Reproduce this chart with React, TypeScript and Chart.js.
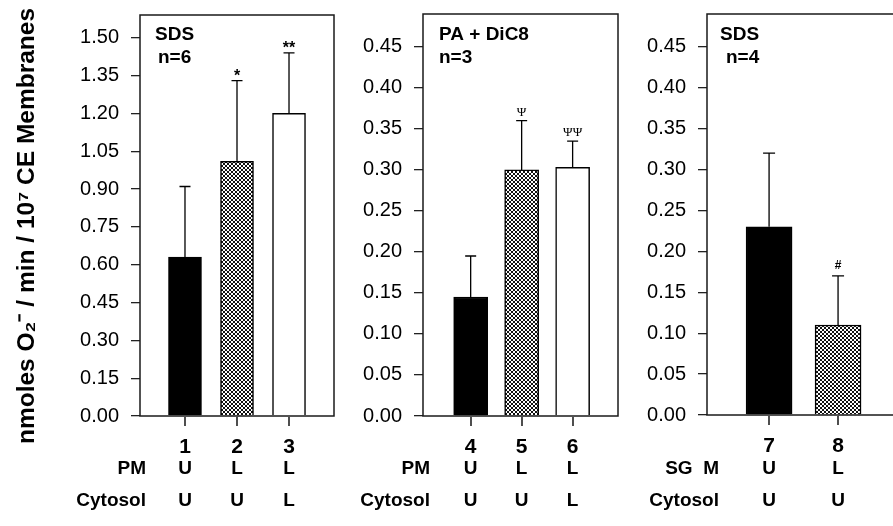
import React, { useEffect, useRef } from 'react';
import { Chart, registerables } from 'chart.js';

Chart.register(...registerables);

// ---------------- data ----------------
const Y_TITLE = 'nmoles O\u2082\u207B / min / 10\u2077 CE Membranes';

const P1_LABELS = ['1', '2', '3'];
const P1_VALUES = [0.63, 1.01, 1.2];
const P1_ERR_TOP = [0.91, 1.33, 1.44];
const P1_MARKS = ['', '*', '**'];
const P1_ROW1 = ['U', 'L', 'L'];
const P1_ROW2 = ['U', 'U', 'L'];
const P1_ROW_NAMES = ['PM', 'Cytosol'];
const P1_NOTES = ['SDS', 'n=6'];
const P1_YTICKS = [0, 0.15, 0.3, 0.45, 0.6, 0.75, 0.9, 1.05, 1.2, 1.35, 1.5];

const P2_LABELS = ['4', '5', '6'];
const P2_VALUES = [0.145, 0.3, 0.303];
const P2_ERR_TOP = [0.195, 0.36, 0.335];
const P2_MARKS = ['', '\u03A8', '\u03A8\u03A8'];
const P2_ROW1 = ['U', 'L', 'L'];
const P2_ROW2 = ['U', 'U', 'L'];
const P2_ROW_NAMES = ['PM', 'Cytosol'];
const P2_NOTES = ['PA + DiC8', 'n=3'];
const P2_YTICKS = [0, 0.05, 0.1, 0.15, 0.2, 0.25, 0.3, 0.35, 0.4, 0.45];

const P3_LABELS = ['7', '8'];
const P3_VALUES = [0.23, 0.11];
const P3_ERR_TOP = [0.32, 0.17];
const P3_MARKS = ['', '#'];
const P3_ROW1 = ['U', 'L'];
const P3_ROW2 = ['U', 'U'];
const P3_ROW_NAMES = ['SG  M', 'Cytosol'];
const P3_NOTES = ['SDS', 'n=4'];
const P3_YTICKS = [0, 0.05, 0.1, 0.15, 0.2, 0.25, 0.3, 0.35, 0.4, 0.45];

// ---------------- layout / style ----------------
const H = 526;
const FONT = '"Liberation Sans", Arial, Helvetica, sans-serif';

type PanelCfg = {
  left: number; width: number;
  area: { left: number; right: number; top: number; bottom: number };
  xMin: number; xMax: number; yMax: number;
  barW: number; capW: number;
  fills: string[];
  labels: string[]; values: number[]; errTop: number[]; marks: string[];
  row1: string[]; row2: string[]; rowNames: string[]; rowRight: number;
  notes: string[]; noteX: number[];
  yTicks: number[];
  markFont: string; markGap: number;
  title: boolean;
};

const PANELS: PanelCfg[] = [
  {
    left: 0, width: 340,
    area: { left: 140, right: 334, top: 15, bottom: 416 },
    xMin: 0.135, xMax: 3.865, yMax: 1.59,
    barW: 33, capW: 11,
    fills: ['#000', 'hatch', '#fff'],
    labels: P1_LABELS, values: P1_VALUES, errTop: P1_ERR_TOP, marks: P1_MARKS,
    row1: P1_ROW1, row2: P1_ROW2, rowNames: P1_ROW_NAMES, rowRight: 146,
    notes: P1_NOTES, noteX: [155, 158],
    yTicks: P1_YTICKS,
    markFont: `bold 16px ${FONT}`, markGap: 0,
    title: true,
  },
  {
    left: 340, width: 285,
    area: { left: 83, right: 278, top: 14, bottom: 416 },
    xMin: 3.065, xMax: 6.89, yMax: 0.49,
    barW: 34, capW: 11,
    fills: ['#000', 'hatch', '#fff'],
    labels: P2_LABELS, values: P2_VALUES, errTop: P2_ERR_TOP, marks: P2_MARKS,
    row1: P2_ROW1, row2: P2_ROW2, rowNames: P2_ROW_NAMES, rowRight: 90,
    notes: P2_NOTES, noteX: [99, 99],
    yTicks: P2_YTICKS,
    markFont: `13px "Liberation Serif", "DejaVu Serif", serif`, markGap: 5,
    title: false,
  },
  {
    left: 625, width: 300,
    area: { left: 82, right: 285, top: 14, bottom: 415 },
    xMin: 6.1, xMax: 9.043, yMax: 0.49,
    barW: 46, capW: 12,
    fills: ['#000', 'hatch'],
    labels: P3_LABELS, values: P3_VALUES, errTop: P3_ERR_TOP, marks: P3_MARKS,
    row1: P3_ROW1, row2: P3_ROW2, rowNames: P3_ROW_NAMES, rowRight: 94,
    notes: P3_NOTES, noteX: [95, 101],
    yTicks: P3_YTICKS,
    markFont: `bold 12px ${FONT}`, markGap: 7,
    title: false,
  },
];

function makeHatch(): CanvasPattern | string {
  const c = document.createElement('canvas');
  c.width = 4; c.height = 4;
  const g = c.getContext('2d');
  if (!g) return '#888';
  g.fillStyle = '#fff';
  g.fillRect(0, 0, 4, 4);
  g.fillStyle = '#111';
  const px = [[0, 0], [1, 1], [2, 2], [3, 3], [3, 0], [2, 1], [1, 2], [0, 3]];
  px.forEach(([a, b]) => g.fillRect(a, b, 1, 1));
  return g.createPattern(c, 'repeat') || '#888';
}

function decorPlugin(cfg: PanelCfg) {
  return {
    id: 'panelDecor',
    afterDraw(chart: any) {
      const { ctx, chartArea: a } = chart;
      const xs = chart.scales.x;
      const ys = chart.scales.y;
      ctx.save();
      // error bars + significance marks
      ctx.strokeStyle = '#000';
      ctx.lineWidth = 1.3;
      cfg.labels.forEach((lab, i) => {
        const px = xs.getPixelForValue(Number(lab));
        const y0 = ys.getPixelForValue(cfg.values[i]);
        const y1 = ys.getPixelForValue(cfg.errTop[i]);
        ctx.beginPath();
        ctx.moveTo(px, y0);
        ctx.lineTo(px, y1);
        ctx.moveTo(px - cfg.capW / 2, y1);
        ctx.lineTo(px + cfg.capW / 2, y1);
        ctx.stroke();
        if (cfg.marks[i]) {
          ctx.fillStyle = '#000';
          ctx.font = cfg.markFont;
          ctx.textAlign = 'center';
          ctx.textBaseline = 'alphabetic';
          ctx.fillText(cfg.marks[i], px, y1 - cfg.markGap);
        }
      });
      // frame
      ctx.strokeStyle = '#1a1a1a';
      ctx.lineWidth = 1.5;
      ctx.strokeRect(a.left, a.top, a.right - a.left, a.bottom - a.top);
      // x-axis tick marks (below the frame)
      ctx.strokeStyle = '#222';
      ctx.lineWidth = 1.6;
      cfg.labels.forEach((lab) => {
        const px = Math.round(xs.getPixelForValue(Number(lab)));
        ctx.beginPath();
        ctx.moveTo(px, a.bottom + 1);
        ctx.lineTo(px, a.bottom + 10);
        ctx.stroke();
      });
      // panel notes
      ctx.fillStyle = '#000';
      ctx.font = `bold 19px ${FONT}`;
      ctx.textAlign = 'left';
      ctx.textBaseline = 'alphabetic';
      ctx.fillText(cfg.notes[0], cfg.noteX[0], 40);
      ctx.fillText(cfg.notes[1], cfg.noteX[1], 63);
      // condition rows
      ctx.textBaseline = 'middle';
      ctx.textAlign = 'right';
      ctx.fillText(cfg.rowNames[0], cfg.rowRight, 469);
      ctx.fillText(cfg.rowNames[1], cfg.rowRight, 501);
      ctx.textAlign = 'center';
      cfg.labels.forEach((lab, i) => {
        const px = xs.getPixelForValue(Number(lab));
        ctx.fillText(cfg.row1[i], px, 469);
        ctx.fillText(cfg.row2[i], px, 501);
      });
      // y title
      if (cfg.title) {
        ctx.translate(27, 226);
        ctx.rotate(-Math.PI / 2);
        ctx.font = `bold 24.5px ${FONT}`;
        ctx.textAlign = 'center';
        ctx.textBaseline = 'middle';
        ctx.fillText(Y_TITLE, 0, 0);
      }
      ctx.restore();
    },
  };
}

function Panel({ cfg }: { cfg: PanelCfg }) {
  const ref = useRef<HTMLCanvasElement | null>(null);
  useEffect(() => {
    if (!ref.current) return;
    const hatch = makeHatch();
    const colors = cfg.fills.map((f) => (f === 'hatch' ? hatch : f));
    const chart = new Chart(ref.current, {
      type: 'bar',
      data: {
        datasets: [
          {
            data: cfg.labels.map((lab, i) => ({ x: Number(lab), y: cfg.values[i] })),
            backgroundColor: colors as any,
            borderColor: '#000',
            borderWidth: 1.5,
            barThickness: cfg.barW,
          },
        ],
      },
      options: {
        responsive: false,
        animation: false,
        devicePixelRatio: 1,
        layout: {
          padding: { left: 0, top: cfg.area.top, right: cfg.width - cfg.area.right, bottom: 0 },
        },
        plugins: { legend: { display: false }, tooltip: { enabled: false } },
        scales: {
          x: {
            type: 'linear',
            offset: false,
            min: cfg.xMin,
            max: cfg.xMax,
            afterBuildTicks: (s: any) => {
              s.ticks = cfg.labels.map((l) => ({ value: Number(l) }));
            },
            afterFit: (s: any) => {
              s.height = H - cfg.area.bottom;
              s.paddingLeft = 0;
              s.paddingRight = 0;
            },
            grid: { display: false, offset: false, drawOnChartArea: false, drawTicks: true, tickLength: 9 },
            border: { display: false },
            ticks: {
              padding: 10,
              color: '#000',
              font: { family: FONT, size: 21, weight: 'bold' },
              callback: (v: any) => {
                const lab = cfg.labels.find((l) => Number(l) === Number(v));
                return lab ?? '';
              },
            },
          },
          y: {
            type: 'linear',
            min: 0,
            max: cfg.yMax,
            afterBuildTicks: (s: any) => {
              s.ticks = cfg.yTicks.map((v) => ({ value: v }));
            },
            afterFit: (s: any) => {
              s.width = cfg.area.left;
              s.paddingTop = 0;
              s.paddingBottom = 0;
            },
            grid: { drawOnChartArea: false, drawTicks: true, tickLength: 9, color: '#222', lineWidth: 1.3 },
            border: { display: false },
            ticks: {
              padding: 12,
              color: '#000',
              font: { family: FONT, size: 20 },
              callback: (v: any) => Number(v).toFixed(2),
            },
          },
        },
      },
      plugins: [decorPlugin(cfg)],
    } as any);
    return () => chart.destroy();
  }, [cfg]);
  return (
    <canvas
      ref={ref}
      width={cfg.width}
      height={H}
      style={{ position: 'absolute', left: cfg.left, top: 0, width: cfg.width, height: H }}
    />
  );
}

export default function App() {
  return (
    <div
      style={{
        position: 'fixed',
        left: 0,
        top: 0,
        width: 893,
        height: H,
        overflow: 'hidden',
        background: '#fff',
      }}
    >
      {PANELS.map((p, i) => (
        <Panel key={i} cfg={p} />
      ))}
    </div>
  );
}
